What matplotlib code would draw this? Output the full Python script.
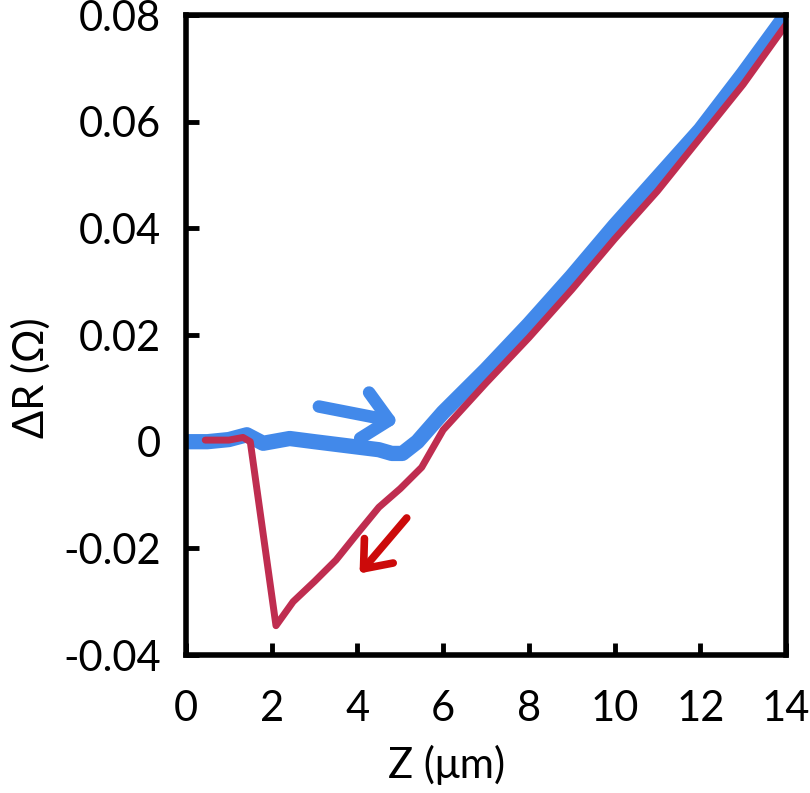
import matplotlib
matplotlib.use("Agg")
import matplotlib.pyplot as plt

plt.rcParams['font.family'] = ['Lato', 'DejaVu Sans']

# blue trace (approach)
blue_z = [0.0, 0.5, 1.0, 1.42, 1.8, 2.42, 3.0, 3.5, 4.0, 4.5, 4.8, 5.05, 5.4, 6.0, 7.0, 8.0, 9.0, 10.0, 11.0, 12.0, 13.0, 14.0]
blue_r = [0.0, 0.0, 0.0004, 0.0013, -0.0003, 0.0006, 0.0, -0.0005, -0.001, -0.0015, -0.0022, -0.0022, 0.0, 0.0055, 0.0135, 0.022, 0.031, 0.0405, 0.0495, 0.0585, 0.069, 0.0800]

# red trace (retract)
red_z = [0.45, 1.0, 1.33, 1.5, 2.1, 2.5, 3.0, 3.5, 4.0, 4.5, 5.0, 5.5, 6.0, 7.0, 8.0, 9.0, 10.0, 11.0, 12.0, 13.0, 14.0]
red_r = [0.0003, 0.0003, 0.0008, 0.0, -0.0345, -0.030, -0.0262, -0.0222, -0.0172, -0.0123, -0.0088, -0.0048, 0.0022, 0.011, 0.0195, 0.0285, 0.038, 0.047, 0.057, 0.067, 0.0782]

# direction arrows: (tail, head)
blue_arrow = [(3.1, 0.0066), (4.95, 0.0037)]
red_arrow = [(5.15, -0.0143), (4.05, -0.0247)]

blue = '#4289ea'
red = '#bf2d50'

fig = plt.figure(figsize=(8.1, 7.93), dpi=100)
ax = fig.add_axes([0.2296, 0.174, 0.7408, 0.807])

ax.plot(blue_z, blue_r, color=blue, lw=11, solid_capstyle='butt', solid_joinstyle='round')
ax.plot(red_z, red_r, color=red, lw=5, solid_capstyle='round', solid_joinstyle='round')

ax.annotate('', xy=blue_arrow[1], xytext=blue_arrow[0],
            arrowprops=dict(arrowstyle='->,head_length=0.45,head_width=0.42', color=blue,
                            lw=9, mutation_scale=40, shrinkA=0, shrinkB=0))
ax.annotate('', xy=red_arrow[1], xytext=red_arrow[0],
            arrowprops=dict(arrowstyle='->,head_length=0.5,head_width=0.4', color='#cc0a0a',
                            lw=5.5, mutation_scale=34, shrinkA=0, shrinkB=0))

ax.set_xlim(0, 14)
ax.set_ylim(-0.04, 0.08)
ax.set_xticks(range(0, 15, 2))
ax.set_yticks([-0.04, -0.02, 0, 0.02, 0.04, 0.06, 0.08])
ax.set_yticklabels(['-0.04', '-0.02', '0', '0.02', '0.04', '0.06', '0.08'])

for s in ax.spines.values():
    s.set_linewidth(4)
ax.tick_params(direction='in', length=9, width=3.5, labelsize=30)
ax.tick_params(axis='x', pad=25)
ax.tick_params(axis='y', pad=18)

ax.set_xlabel('Z (μm)', fontsize=30)
ax.set_ylabel('ΔR (Ω)', fontsize=30)
ax.xaxis.set_label_coords(0.435, -0.14)
ax.yaxis.set_label_coords(-0.225, 0.433)

fig.savefig('out.png', dpi=100)
